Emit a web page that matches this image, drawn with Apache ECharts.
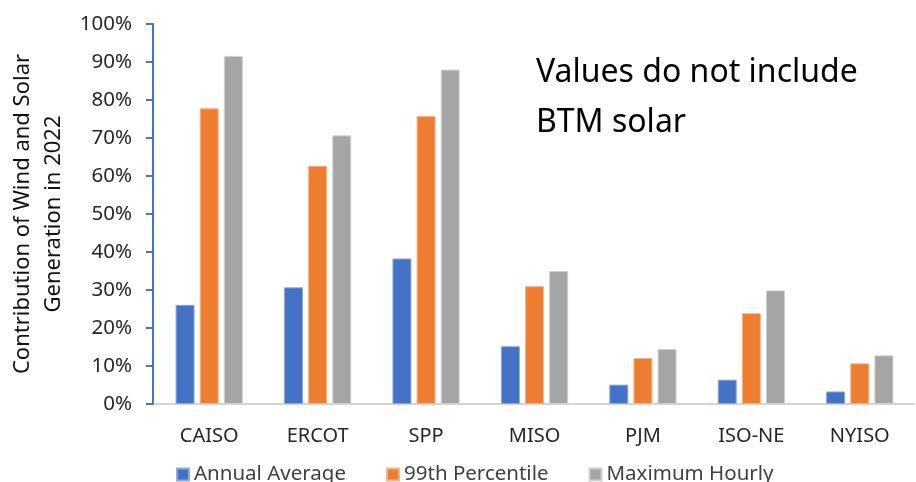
<!DOCTYPE html>
<html>
<head>
<meta charset="utf-8">
<script src="https://cdn.jsdelivr.net/npm/echarts@6/dist/echarts.min.js"></script>
<style>html,body{margin:0;padding:0;background:#fff}#c{width:916px;height:482px}</style>
</head>
<body>
<div id="c"></div>
<script>
var categories = ['CAISO', 'ERCOT', 'SPP', 'MISO', 'PJM', 'ISO-NE', 'NYISO'];
var annualAverage = [26.1, 30.7, 38.3, 15.2, 5.1, 6.4, 3.3];
var percentile99 = [77.8, 62.7, 75.8, 31.0, 12.1, 23.9, 10.7];
var maximumHourly = [91.6, 70.7, 88.0, 35.0, 14.5, 29.9, 12.8];
var seriesNames = ['Annual Average', '99th Percentile', 'Maximum Hourly'];
var yTitle = 'Contribution of Wind and Solar\nGeneration in 2022';
var note = 'Values do not include\nBTM solar';

var FONT = 'Noto Sans';
var chart = echarts.init(document.getElementById('c'), null, {renderer: 'canvas'});
function bar(name, data, color, border) {
  return {
    name: name, type: 'bar', data: data, barWidth: 19, barGap: '27%',
    itemStyle: {color: color, borderColor: border, borderWidth: 1},
    emphasis: {disabled: true}
  };
}
chart.setOption({
  animation: false,
  textStyle: {fontFamily: FONT},
  grid: {left: 155, right: 2, top: 24, bottom: 78, outerBoundsMode: 'none', containLabel: false},
  legend: {
    data: seriesNames, top: 459, left: 171, itemWidth: 12, itemHeight: 12, itemGap: 40,
    icon: 'rect',
    textStyle: {fontSize: 20.5, color: '#404040', fontFamily: FONT}
  },
  xAxis: {
    type: 'category', data: categories,
    axisLine: {lineStyle: {color: '#d4d4d4', width: 2}},
    axisTick: {show: false},
    axisLabel: {fontSize: 20, color: '#262626', margin: 22, fontFamily: FONT}
  },
  yAxis: {
    type: 'value', min: 0, max: 100, interval: 10, offset: 2,
    name: yTitle, nameLocation: 'middle', nameRotate: 90, nameGap: 81,
    nameTextStyle: {fontSize: 22, color: '#111', lineHeight: 31, fontFamily: FONT},
    axisLine: {show: true, lineStyle: {color: '#4472C4', width: 2}},
    axisTick: {show: true, inside: false, length: 7, lineStyle: {color: '#4472C4', width: 2}},
    splitLine: {show: false},
    axisLabel: {fontSize: 20.5, color: '#262626', margin: 21, formatter: '{value}%', fontFamily: FONT}
  },
  graphic: [{
    type: 'text', left: 536, top: 48,
    style: {text: note, fontSize: 32, lineHeight: 50, fill: '#000', fontFamily: FONT}
  }],
  series: [
    bar(seriesNames[0], annualAverage, '#4472C4', '#8eaadc'),
    bar(seriesNames[1], percentile99, '#ED7D31', '#f5b48a'),
    bar(seriesNames[2], maximumHourly, '#A5A5A5', '#d0d0d0')
  ]
});
</script>
</body>
</html>
